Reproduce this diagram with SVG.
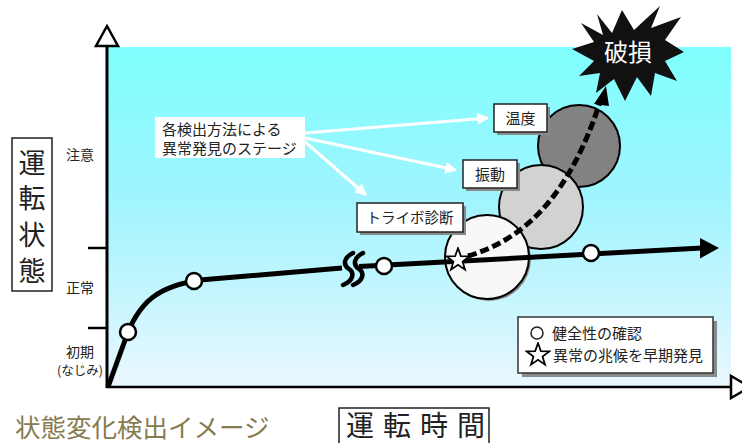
<svg xmlns="http://www.w3.org/2000/svg" width="742" height="443" viewBox="0 0 742 443">
<defs>
<linearGradient id="bg" x1="0" y1="0" x2="0" y2="1">
<stop offset="0" stop-color="#7FFFFF"/>
<stop offset="0.45" stop-color="#A0F4FE"/>
<stop offset="1" stop-color="#EAF7FF"/>
</linearGradient>
<marker id="wa" viewBox="0 0 10 10" refX="9" refY="5" markerWidth="4" markerHeight="4" orient="auto" markerUnits="strokeWidth">
<path d="M0,0 L10,5 L0,10 z" fill="#FFFFFF"/>
</marker>
<symbol id="star" viewBox="-12 -12 24 24">
<polygon points="0,-11 2.6,-3.6 10.5,-3.4 4.2,1.4 6.5,8.9 0,4.4 -6.5,8.9 -4.2,1.4 -10.5,-3.4 -2.6,-3.6" fill="#FFFFFF" stroke="#000000" stroke-width="1.6" stroke-linejoin="miter"/>
</symbol>
</defs>
<style>
text{font-family:"Noto Sans CJK JP","Noto Sans CJK SC",sans-serif;fill:#222222}
.box{fill:#FFFFFF;stroke:#222222;stroke-width:1.5}
.sh{fill:#8A8A8A}
.mk{fill:#FFFFFF;stroke:#000000;stroke-width:2.5}
.wl{stroke:#FFFFFF;stroke-width:3;fill:none}
</style>
<rect width="742" height="443" fill="#FFFFFF"/>
<rect x="108" y="47" width="623" height="340" fill="url(#bg)"/>

<g id="axes">
<line x1="107" y1="45" x2="107" y2="388" stroke="#000" stroke-width="3"/>
<line x1="106" y1="387" x2="731" y2="387" stroke="#000" stroke-width="2.5"/>
<polygon points="107,26 96,46 118,46" fill="#FFFFFF" stroke="#000" stroke-width="2.5" stroke-linejoin="miter"/>
<polygon points="731,376 731,398 750,387" fill="#FFFFFF" stroke="#000" stroke-width="2.5"/>
<line x1="88" y1="248" x2="107" y2="248" stroke="#000" stroke-width="2.5"/>
<line x1="88" y1="328" x2="107" y2="328" stroke="#000" stroke-width="2.5"/>
</g>

<g id="y-labels">
<text x="80" y="160" font-size="14" text-anchor="middle">注意</text>
<text x="80" y="293" font-size="14" text-anchor="middle">正常</text>
<text x="80" y="357" font-size="14" text-anchor="middle">初期</text>
<text x="80" y="375" font-size="12.5" text-anchor="middle">(なじみ)</text>
</g>

<g id="y-title">
<rect x="12" y="138" width="40" height="153" fill="#FFFFFF" stroke="#222" stroke-width="1.5"/>
<text x="32" y="173" font-size="27" text-anchor="middle">運</text>
<text x="32" y="208" font-size="27" text-anchor="middle">転</text>
<text x="32" y="245" font-size="27" text-anchor="middle">状</text>
<text x="32" y="281" font-size="27" text-anchor="middle">態</text>
</g>

<g id="stage-temp-circle">
<circle cx="579" cy="146" r="41" fill="#828282" stroke="#000" stroke-width="2"/>
</g>
<g id="stage-vib-circle">
<circle cx="541" cy="207" r="42" fill="#D2D2D2" stroke="#000" stroke-width="2"/>
</g>
<g id="stage-tribo-circle">
<circle cx="489" cy="259" r="42" fill="#8A8A8A"/>
<circle cx="487" cy="257" r="42" fill="#F8F8F8" stroke="#000" stroke-width="2"/>
</g>

<g id="connectors">
<path d="M108,387 L124,343 C138,300 160,286 200,280 L342,268" fill="none" stroke="#000" stroke-width="5" stroke-linejoin="round"/>
<path d="M359,266.6 L702,248" fill="none" stroke="#000" stroke-width="5"/>
<polygon points="719,248 700,238 700,258.5" fill="#000"/>
<path d="M353,253 C343,258 343,265 349,269 C355,273 353,281 343,285" fill="none" stroke="#000" stroke-width="4.5" stroke-linecap="round"/>
<path d="M363,253 C353,258 353,265 359,269 C365,273 363,281 353,285" fill="none" stroke="#000" stroke-width="4.5" stroke-linecap="round"/>
<path d="M468,256 C530,238 572,188 600,102" fill="none" stroke="#000" stroke-width="5" stroke-dasharray="9,4"/>
<polygon points="606,86 594,104 609,106" fill="#000"/>
<line class="wl" x1="305" y1="133" x2="488" y2="118" marker-end="url(#wa)"/>
<line class="wl" x1="305" y1="138" x2="456" y2="170" marker-end="url(#wa)"/>
<line class="wl" x1="303" y1="140" x2="366" y2="195" marker-end="url(#wa)"/>
</g>

<g id="markers">
<circle class="mk" cx="128" cy="332" r="8"/>
<circle class="mk" cx="194" cy="281" r="8"/>
<circle class="mk" cx="384" cy="266" r="8"/>
<circle class="mk" cx="591" cy="253" r="8"/>
<use href="#star" x="445" y="247" width="26" height="26"/>
</g>

<g id="stages-label">
<rect x="155" y="117" width="150" height="41" fill="#FFFFFF"/>
<text x="162" y="135" font-size="15">各検出方法による</text>
<text x="162" y="154" font-size="15">異常発見のステージ</text>
</g>

<g id="temp-box">
<rect class="sh" x="497" y="107" width="53" height="28"/>
<rect class="box" x="494" y="104" width="53" height="28"/>
<text x="520.5" y="124" font-size="15" text-anchor="middle">温度</text>
</g>
<g id="vib-box">
<rect class="sh" x="466" y="163" width="54" height="28"/>
<rect class="box" x="463" y="160" width="54" height="28"/>
<text x="490" y="180" font-size="15" text-anchor="middle">振動</text>
</g>
<g id="tribo-box">
<rect class="sh" x="360" y="206" width="106" height="29"/>
<rect class="box" x="357" y="203" width="106" height="29"/>
<text x="410" y="223" font-size="14.5" text-anchor="middle">トライボ診断</text>
</g>

<g id="failure">
<polygon points="597,14 612,33 622,10 634,30 660,6 651,28 681,17 665,40 684,52 665,61 677,81 655,73 651,96 637,77 625,101 614,79 596,93 600,73 579,76 594,61 572,49 594,42 581,23 603,35" fill="#111111"/>
<text x="628" y="61" font-size="24" text-anchor="middle" style="fill:#FFFFFF">破損</text>
</g>

<g id="legend">
<rect x="522" y="321" width="195" height="56" fill="#8A8A8A"/>
<rect x="518" y="317" width="195" height="56" fill="#FFFFFF" stroke="#333" stroke-width="1.5"/>
<circle cx="537" cy="333" r="6" fill="#FFFFFF" stroke="#222" stroke-width="1.5"/>
<text x="552" y="339" font-size="15">健全性の確認</text>
<use href="#star" x="525" y="342" width="26" height="26"/>
<text x="553" y="361" font-size="15">異常の兆候を早期発見</text>
</g>

<g id="x-title">
<rect x="339" y="408" width="150" height="40" fill="#FFFFFF" stroke="#222" stroke-width="1.5"/>
<text x="346" y="436" font-size="28" letter-spacing="9">運転時間</text>
</g>

<g id="caption">
<text x="15" y="437" font-size="25.5" style="fill:#857B4E">状態変化検出イメージ</text>
</g>
</svg>
